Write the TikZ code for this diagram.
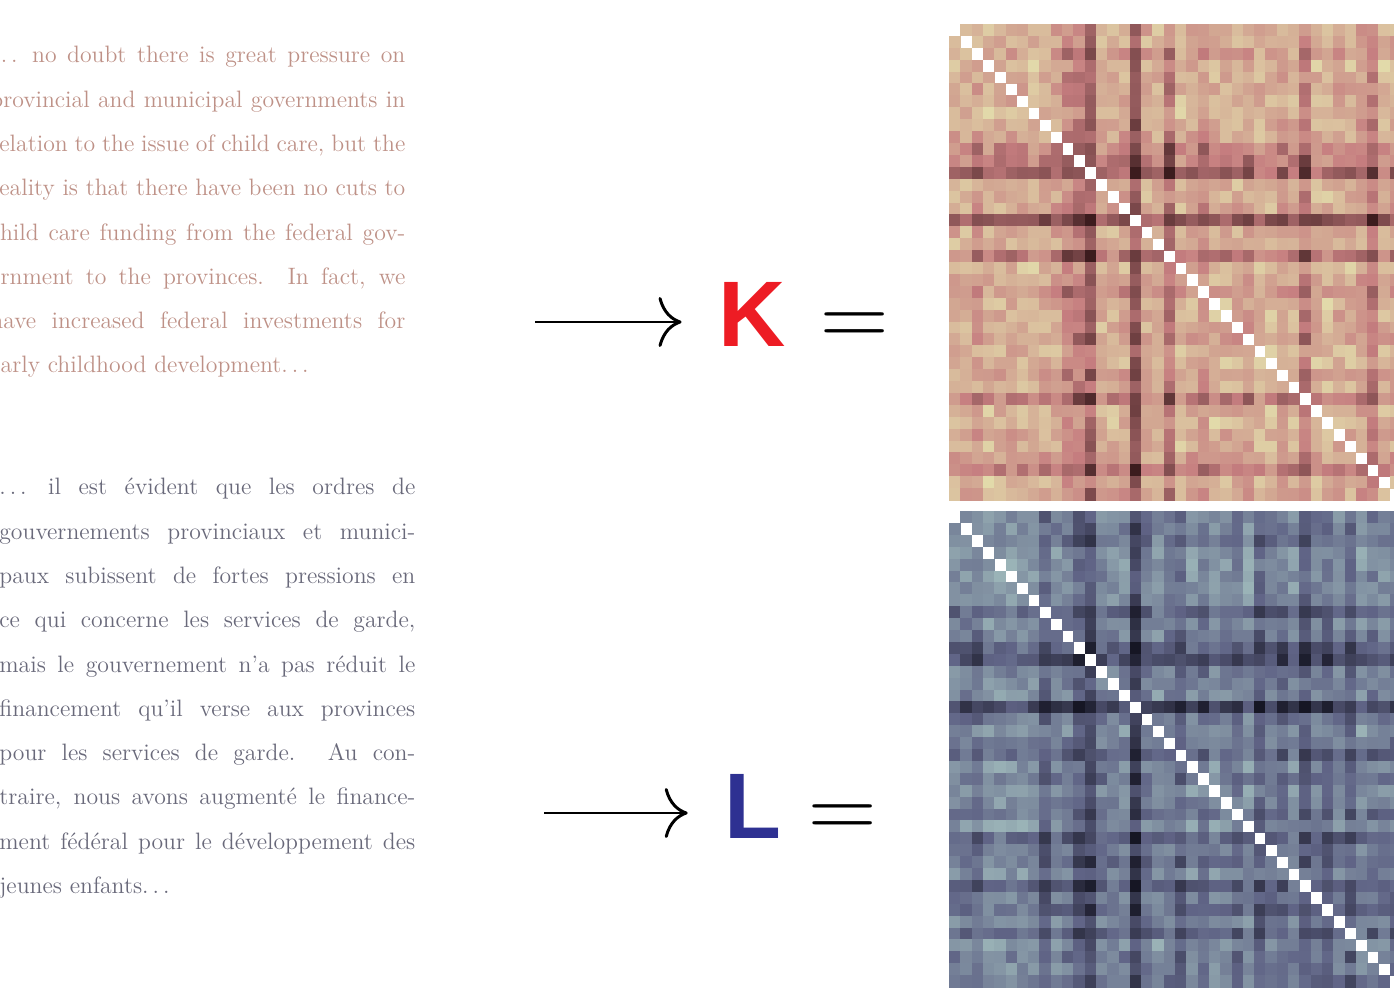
\documentclass[tikz,border=0pt]{standalone}
\usepackage{fontspec}
\newfontfamily\letterfont{Liberation Sans}
\usepackage{xcolor}
\usetikzlibrary{arrows.meta, positioning}

\definecolor{engtext}{RGB}{190,145,135}
\definecolor{fretext}{RGB}{105,105,122}
\definecolor{kred}{RGB}{237,28,36}
\definecolor{lblue}{RGB}{46,49,146}
\definecolor{klight}{RGB}{226,218,170}
\definecolor{kmid}{RGB}{198,126,128}
\definecolor{kdark}{RGB}{60,28,30}
\definecolor{llight}{RGB}{158,184,186}
\definecolor{lmid}{RGB}{96,100,134}
\definecolor{ldark}{RGB}{22,22,36}

% spaced dots, as in plain TeX
\newcommand{\spreaddots}{.\kern0.167em.\kern0.167em.\kern0.167em}

% row factors of the two kernel matrices
\def\kfac{{0.12,0.10,0.18,0.06,0.10,0.14,0.12,0.08,0.12,0.15,0.34,0.36,0.48,0.08,0.10,0.16,0.58,0.12,0.10,0.38,0.06,0.15,0.26,0.08,0.12,0.14,0.20,0.08,0.06,0.16,0.12,0.36,0.10,0.05,0.14,0.12,0.20,0.36,0.08,0.15}}
\def\lfac{{0.14,0.16,0.22,0.06,0.08,0.09,0.08,0.14,0.34,0.16,0.19,0.36,0.48,0.19,0.12,0.14,0.56,0.22,0.09,0.19,0.29,0.12,0.24,0.09,0.16,0.24,0.09,0.34,0.19,0.29,0.12,0.36,0.19,0.32,0.14,0.34,0.09,0.22,0.16,0.24}}

\begin{document}
\begin{tikzpicture}[
    passage/.style = {
      anchor = base west, inner sep = 0pt, text width = 8.3cm, align = justify,
      font = \fontsize{13.5}{25.2}\selectfont
    },
    gram/.style = {
      anchor = base, inner sep = 0pt,
      font = \fontsize{53}{53}\selectfont\letterfont\bfseries
    },
    equal/.style = {
      inner sep = 0pt, font = \fontsize{54}{54}\selectfont
    },
    map/.style = {
      line width = 1.7pt,
      -{Computer Modern Rightarrow[length = 4.6mm, width = 10mm]}
    },
    ]
    \useasboundingbox (0,0) rectangle (27.88,19.76);
    \clip (0,0) rectangle (27.88,19.76);

    % draw passages
    \node  [passage, text = engtext]  (eng)  at  (-0.2,18.5)  {\spreaddots\ no doubt there is great pressure on\linebreak provincial and municipal governments in\linebreak relation to the issue of child care, but the\linebreak reality is that there have been no cuts to\linebreak child care funding from the federal gov-\linebreak ernment to the provinces.  In fact, we\linebreak have increased federal investments for\linebreak early childhood development\spreaddots};
    \node  [passage, text = fretext, text width = 8.32cm]  (fre)  at  (-0.02,9.86)  {\spreaddots\ il est évident que les ordres de\linebreak gouvernements provinciaux et munici-\linebreak paux subissent de fortes pressions en\linebreak ce qui concerne les services de garde,\linebreak mais le gouvernement n'a pas réduit le\linebreak financement qu'il verse aux provinces\linebreak pour les services de garde.  Au con-\linebreak traire, nous avons augmenté le finance-\linebreak ment fédéral pour le développement des\linebreak jeunes enfants\spreaddots};

    % draw gram symbols
    \node  [gram, text = kred]  (kgram)  at  (15.04,12.82)  {K};
    \node  [equal]  (keq)  [base right = 0.68cm of kgram]  {=};
    \node  [gram, text = lblue]  (lgram)  at  (15.06,3.0)  {L};
    \node  [equal]  (leq)  [base right = 0.52cm of lgram]  {=};

    % draw paths
    \coordinate  (kfrom)  at  (10.7,13.32);
    \coordinate  (lfrom)  at  (10.88,3.5);
    \draw  [map, shorten > = 0.73cm]  (kfrom)  --  (kfrom -| kgram.west);
    \draw  [map, shorten > = 0.73cm]  (lfrom)  --  (lfrom -| lgram.west);

    % draw kernel matrices
    \foreach \i in {0,...,39}
    \foreach \j in {0,...,39} {
      \ifnum\i=\j\else
        \pgfmathsetmacro{\v}{min(1,max(0,\kfac[\i]+\kfac[\j]+0.3*(mod(abs(100*sin(\i*\j*7.3+(\i+\j)*37.1)),1)-0.5)))}
        \pgfmathtruncatemacro{\lo}{min(100,200*\v)}
        \pgfmathtruncatemacro{\hi}{max(0,200*\v-100)}
        \colorlet{cell}{kdark!\hi!kmid}
        \fill  [cell!\lo!klight]  (18.98+\j*0.226,19.28-\i*0.238)  rectangle  ++(0.236,-0.248);
      \fi
    }

    \foreach \i in {0,...,39}
    \foreach \j in {0,...,39} {
      \ifnum\i=\j\else
        \pgfmathsetmacro{\v}{min(1,max(0,\lfac[\i]+\lfac[\j]+0.3*(mod(abs(100*sin(\i*\j*7.3+(\i+\j)*53.9+17)),1)-0.5)))}
        \pgfmathtruncatemacro{\lo}{min(100,200*\v)}
        \pgfmathtruncatemacro{\hi}{max(0,200*\v-100)}
        \colorlet{cell}{ldark!\hi!lmid}
        \fill  [cell!\lo!llight]  (18.98+\j*0.226,9.54-\i*0.238)  rectangle  ++(0.236,-0.248);
      \fi
    }
\end{tikzpicture}
\end{document}
